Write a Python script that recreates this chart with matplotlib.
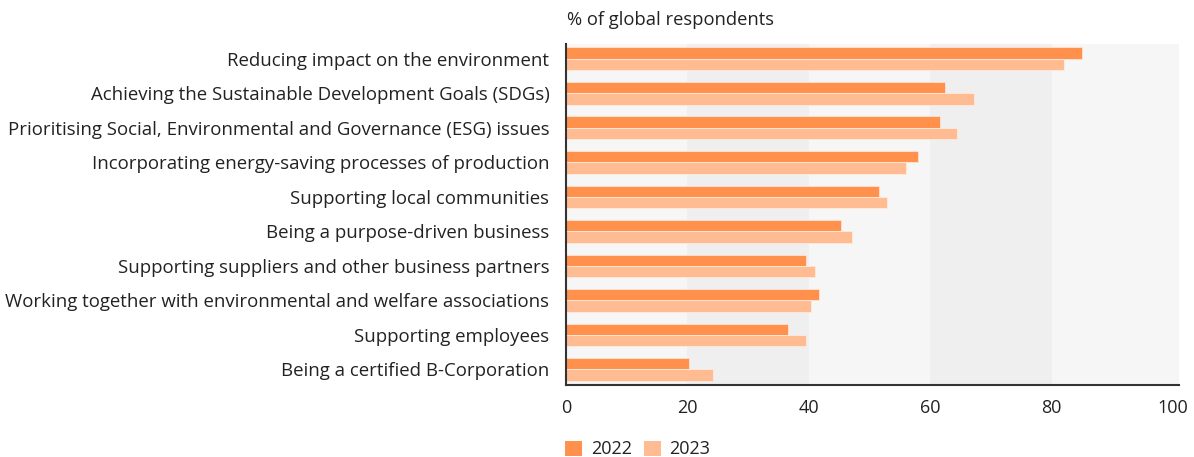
import matplotlib
matplotlib.use("Agg")
import matplotlib.pyplot as plt
from matplotlib.patches import Patch
import numpy as np

plt.rcParams['font.family'] = ['Open Sans', 'DejaVu Sans']

categories = [
    "Reducing impact on the environment",
    "Achieving the Sustainable Development Goals (SDGs)",
    "Prioritising Social, Environmental and Governance (ESG) issues",
    "Incorporating energy-saving processes of production",
    "Supporting local communities",
    "Being a purpose-driven business",
    "Supporting suppliers and other business partners",
    "Working together with environmental and welfare associations",
    "Supporting employees",
    "Being a certified B-Corporation",
]
values_2022 = [85, 62.4, 61.6, 58, 51.5, 45.3, 39.6, 41.7, 36.5, 20.2]
values_2023 = [82, 67.3, 64.4, 56, 52.9, 47.2, 41, 40.4, 39.6, 24.2]
series_labels = ["2022", "2023"]
x_ticks = [0, 20, 40, 60, 80, 100]

color_2022 = "#ff914d"
color_2023 = "#ffbb92"
text_color = "#222222"

fig = plt.figure(figsize=(11.94, 4.57), dpi=100)
ax = fig.add_axes([566 / 1194, (457 - 385) / 457, (1179 - 566) / 1194, (385 - 44) / 457])

# alternating background bands
band_colors = ["#f6f6f6", "#efefef", "#f6f6f6", "#efefef", "#f6f6f6"]
edges = [0, 20, 40, 60, 80, 101]
for i, c in enumerate(band_colors):
    ax.axvspan(edges[i], edges[i + 1], color=c, lw=0, zorder=0)

y = np.arange(len(categories))
h = 0.33
ax.barh(y - h / 2, values_2022, height=h, color=color_2022, edgecolor="#ffe3d2",
        linewidth=0.6, zorder=2, label=series_labels[0])
ax.barh(y + h / 2, values_2023, height=h, color=color_2023, edgecolor="#ffeadc",
        linewidth=0.6, zorder=2, label=series_labels[1])

ax.set_xlim(0, 101)
ax.set_ylim(len(categories) - 1 + 0.45, -0.43)
ax.set_yticks(y)
ax.set_yticklabels(categories, fontsize=13.4, color=text_color)
ax.set_xticks(x_ticks)
ax.set_xticklabels([str(t) for t in x_ticks], fontsize=13, color=text_color)
ax.tick_params(axis="y", length=0, pad=12)
ax.tick_params(axis="x", length=0, pad=10)

for s in ["top", "right"]:
    ax.spines[s].set_visible(False)
for s in ["left", "bottom"]:
    ax.spines[s].set_color("#333333")
    ax.spines[s].set_linewidth(1.5)

fig.text(567 / 1194, 1 - 20 / 457, "% of global respondents", fontsize=13.2,
         color=text_color, va="center", ha="left")

handles = [Patch(facecolor=color_2022, edgecolor="none"),
           Patch(facecolor=color_2023, edgecolor="none")]
fig.legend(handles, series_labels, loc="upper left",
           bbox_to_anchor=(560 / 1194, 1 - 435 / 457), ncol=2, frameon=False,
           fontsize=13, handlelength=0.9, handleheight=0.9, handletextpad=0.5,
           columnspacing=0.7, borderaxespad=0, borderpad=0.3,
           labelcolor=text_color)

fig.savefig("out.png", dpi=100)
